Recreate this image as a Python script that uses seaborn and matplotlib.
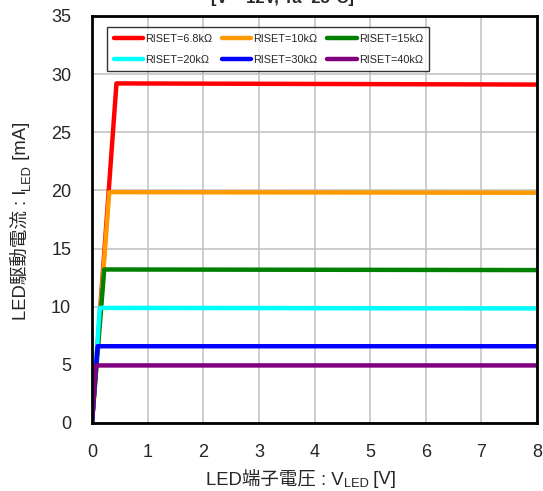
import numpy as np
import pandas as pd
import seaborn as sns
import matplotlib.pyplot as plt

# knee points; each curve: (0,0) -> knee -> flat to 8 V
labels = ["RISET=6.8kΩ", "RISET=10kΩ", "RISET=15kΩ",
          "RISET=20kΩ", "RISET=30kΩ", "RISET=40kΩ"]
colors = ["#ff0000", "#ff9900", "#008000", "#00ffff", "#0000ff", "#800080"]
v_knee = [0.44, 0.31, 0.22, 0.14, 0.10, 0.07]
i_knee = [29.2, 19.85, 13.2, 9.9, 6.6, 4.95]
i_end = [29.1, 19.8, 13.15, 9.85, 6.6, 4.95]
v_end = 8.0

rows = []
for lab, vk, ik, ie in zip(labels, v_knee, i_knee, i_end):
    rows += [(lab, 0.0, 0.0), (lab, vk, ik), (lab, v_end, ie)]
df = pd.DataFrame(rows, columns=["riset", "v", "i"])

sns.set_style("white")
plt.rcParams["font.family"] = ["Liberation Sans", "Noto Sans CJK JP", "DejaVu Sans"]

fig = plt.figure(figsize=(5.43, 4.91), dpi=100)
ax = fig.add_axes([0.1694, 0.1385, 0.8196, 0.829])

sns.lineplot(data=df, x="v", y="i", hue="riset", hue_order=labels,
             palette=colors, sort=False, estimator=None, lw=3.2, ax=ax)

ax.set_xlim(0, 8)
ax.set_ylim(0, 35)
ax.set_xticks(range(0, 9))
ax.set_yticks(range(0, 36, 5))
ax.grid(True, color="#c0c0c0", lw=1.1)
ax.set_axisbelow(True)
for s in ax.spines.values():
    s.set_color("black")
    s.set_linewidth(2)
ax.tick_params(labelsize=13, length=0)
ax.tick_params(axis="y", pad=15)
ax.tick_params(axis="x", pad=15)
ax.set_xlabel("")
ax.set_ylabel("")

# axis labels built from pieces so the CJK glyphs fall back properly
fs = 13.3
fig.canvas.draw()
r = fig.canvas.get_renderer()


def chain_x(pieces, x0_px, y_px):
    x = x0_px
    for txt, size, dy in pieces:
        t = fig.text(x / fig.bbox.width, (y_px + dy) / fig.bbox.height, txt,
                     fontsize=size, ha="left", va="baseline")
        x = t.get_window_extent(r).x1


def chain_y(pieces, x_px, y0_px):
    y = y0_px
    for txt, size, dx in pieces:
        t = fig.text((x_px + dx) / fig.bbox.width, y / fig.bbox.height, txt,
                     fontsize=size, rotation=90, ha="left", va="bottom",
                     rotation_mode="anchor")
        y = t.get_window_extent(r).y1


chain_x([("LED端子電圧 : V", fs, 0), ("LED", fs * 0.7, -3), (" [V]", fs, 0)],
        206, 7)
chain_y([("LED駆動電流 : I", fs, 0), ("LED", fs * 0.7, 3), (" [mA]", fs, 0)],
        30, 171)

fig.text(0.52, 1.003, "[V⁺=12V, Ta=25°C]", ha="center", va="center",
         fontsize=12, fontweight="bold")

handles, labs = ax.get_legend_handles_labels()
order = [0, 3, 1, 4, 2, 5]  # fill row-wise in a 3-column legend
leg = ax.legend([handles[k] for k in order], [labs[k] for k in order],
                loc="upper left", bbox_to_anchor=(0.022, 0.985), ncol=3,
                fontsize=7.8, frameon=True, fancybox=False, edgecolor="black",
                handlelength=2.7, handletextpad=0.2, columnspacing=0.9,
                borderpad=0.6, labelspacing=1.0)
leg.get_frame().set_linewidth(1)
for h in leg.get_lines():
    h.set_linewidth(3.2)

fig.savefig("out.png", dpi=100)
